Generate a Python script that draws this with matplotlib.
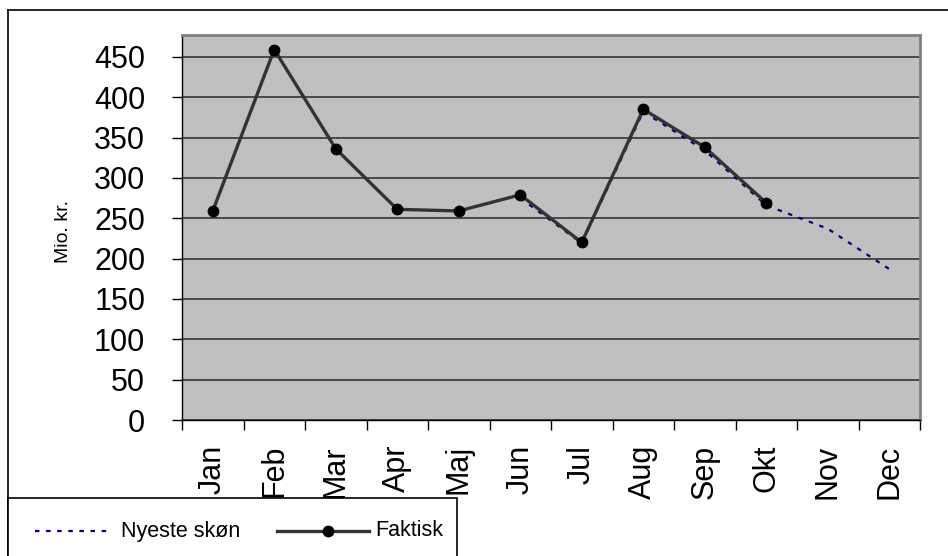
import numpy as np
import matplotlib
matplotlib.use('Agg')
import matplotlib.pyplot as plt
from matplotlib.lines import Line2D
from matplotlib.patches import Rectangle

plt.rcParams['font.family'] = ['Liberation Sans', 'DejaVu Sans']

# Data
months = ['Jan', 'Feb', 'Mar', 'Apr', 'Maj', 'Jun', 'Jul', 'Aug', 'Sep', 'Okt', 'Nov', 'Dec']
faktisk = [259, 459, 336, 261, 259, 279, 220, 385, 338, 269]
skon_months = ['Jun', 'Jul', 'Aug', 'Sep', 'Okt', 'Nov', 'Dec']
skon = [275, 219, 382, 334, 266, 237, 187]
yticks = [0, 50, 100, 150, 200, 250, 300, 350, 400, 450]

W, H = 948, 556
fig = plt.figure(figsize=(W / 100, H / 100), dpi=100)


def fx(px):
    return px / W


def fy(py):
    return 1 - py / H


# plot area in pixels: left 182, right 920, top 35, bottom 420
ax = fig.add_axes([fx(182), fy(420), fx(920 - 182), (420 - 35) / H])
ax.set_facecolor('#c0c0c0')

x_all = np.arange(len(months))
x_f = x_all[:len(faktisk)]
x_s = np.array([months.index(m) for m in skon_months])

ax.plot(x_s, skon, color='#000080', linewidth=1.6, linestyle=(0, (2, 3)), zorder=3)
ax.plot(x_f, faktisk, color='#333333', linewidth=2.4, marker='o', markersize=7.5,
        markerfacecolor='black', markeredgecolor='black', zorder=4)

ax.set_xlim(-0.5, 11.5)
ax.set_ylim(0, 477)
ax.set_yticks(yticks)
ax.set_yticklabels([str(v) for v in yticks], fontsize=22)
ax.yaxis.grid(True, color='#404040', linewidth=1.3)
ax.set_axisbelow(True)

ax.set_xticks(x_all)
ax.set_xticklabels(months, rotation=90, fontsize=22, va='top')
ax.set_xticks(np.arange(-0.5, 12, 1), minor=True)
ax.tick_params(axis='x', which='major', length=0, pad=18)
ax.tick_params(axis='x', which='minor', length=7, width=1, color='black', direction='out')
ax.tick_params(axis='y', length=7, width=1, direction='out', pad=19.5)

for s in ['left', 'bottom']:
    ax.spines[s].set_color('black')
    ax.spines[s].set_linewidth(1)
for s in ['top', 'right']:
    ax.spines[s].set_color('#808080')
    ax.spines[s].set_linewidth(2)

fig.text(fx(64), fy(231), 'Mio. kr.', rotation=90, fontsize=14, ha='center', va='center')

# outer chart border
fig.add_artist(Line2D([fx(8), fx(8)], [fy(10), fy(H + 5)], color='black', linewidth=1.2))
fig.add_artist(Line2D([fx(8), fx(W + 5)], [fy(10), fy(10)], color='black', linewidth=1.2))

# legend box
fig.add_artist(Rectangle((fx(8), fy(H + 20)), fx(457 - 8), (H + 20 - 498) / H,
                         transform=fig.transFigure, facecolor='white', edgecolor='black',
                         linewidth=1.2, zorder=5))
fig.add_artist(Line2D([fx(35), fx(110)], [fy(531), fy(531)], color='#000080',
                      linewidth=1.6, linestyle=(0, (2, 3)), zorder=6))
fig.text(fx(121), fy(531), 'Nyeste skøn', fontsize=15.5, va='center', ha='left', zorder=6)
fig.add_artist(Line2D([fx(277), fx(369)], [fy(531), fy(531)], color='#333333',
                      linewidth=2.4, zorder=6))
fig.add_artist(Line2D([fx(328)], [fy(531)], color='black', marker='o', markersize=7.5,
                      zorder=7))
fig.text(fx(375), fy(531), 'Faktisk', fontsize=15.5, va='center', ha='left', zorder=6)

plt.savefig('out.png', dpi=100)
